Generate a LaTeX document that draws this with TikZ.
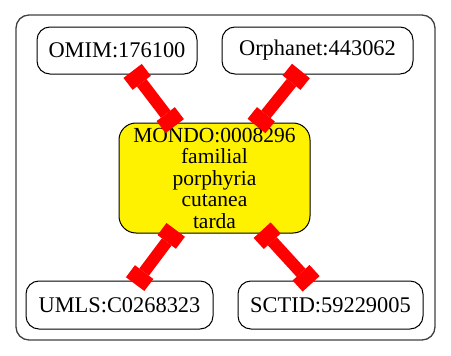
\documentclass[tikz,border=0pt]{standalone}
\usepackage{fontspec}
\setmainfont{Liberation Serif}
\usepackage{tikz}
\usetikzlibrary{arrows.meta}

\begin{document}
\begin{tikzpicture}[x=1pt,y=-1pt,
		term/.style={draw=black,line width=1pt,rounded corners=13pt,inner sep=0pt,
			font=\fontsize{22.4}{21}\selectfont,align=center},
		xref/.style={draw=red,line width=12pt,
			{Rectangle[length=15pt,width=23pt,line width=0pt]}-{Rectangle[length=15pt,width=23pt,line width=0pt]},
			shorten <=-4.5pt,shorten >=-4.5pt}]
		\useasboundingbox (0,0) rectangle (451,356);
		\draw[line width=1.3pt,draw=black!75,rounded corners=13pt] (16,15) rectangle (435,340); %cluster%
		\node[term,minimum width=160pt,minimum height=47pt] (omim) at (117,50.5) {OMIM:176100};
		\node[term,minimum width=191pt,minimum height=47pt] (orpha) at (317.5,50.5) {Orphanet:443062};
		\node[term,fill=yellow,rounded corners=17pt,minimum width=191pt,minimum height=110pt,
			font=\fontsize{21.5}{21.5}\selectfont] (mondo) at (214.5,178)
			{MONDO:0008296\\familial\\porphyria\\cutanea\\tarda};
		\node[term,minimum width=187pt,minimum height=48pt] (umls) at (119.5,305) {UMLS:C0268323};
		\node[term,minimum width=185pt,minimum height=48pt] (sctid) at (330.5,305) {SCTID:59229005};
		% equivalence edges, drawn over the nodes
		\draw[xref] (omim) -- (mondo);
		\draw[xref] (orpha) -- (mondo);
		\draw[xref] (mondo) -- (umls);
		\draw[xref] (mondo) -- (sctid);
	\end{tikzpicture}
\end{document}
